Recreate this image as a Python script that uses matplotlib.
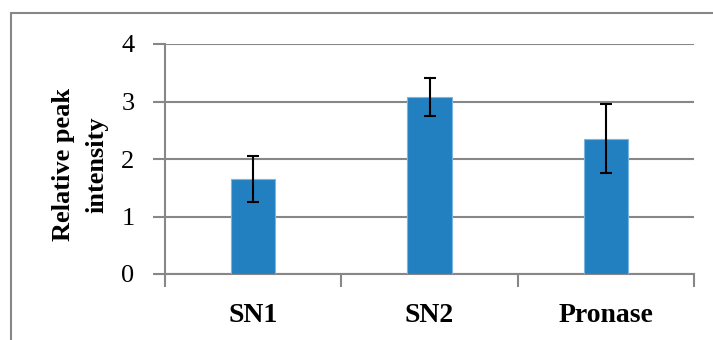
import matplotlib
matplotlib.use("Agg")
import matplotlib.pyplot as plt
from matplotlib.patches import Rectangle
import numpy as np

categories = ["SN1", "SN2", "Pronase"]
values = [1.65, 3.08, 2.35]
errors = [0.40, 0.33, 0.60]
y_ticks = [0, 1, 2, 3, 4]

plt.rcParams['font.family'] = ['Liberation Serif', 'DejaVu Serif']

grid_color = '#878787'
bar_color = '#2380c0'

fig = plt.figure(figsize=(7.13, 3.40), dpi=100)
ax = fig.add_axes([165 / 713, (340 - 274) / 340, (694 - 165) / 713, (274 - 44) / 340])

x = np.arange(len(categories))
ax.bar(x, values, width=0.25, color=bar_color, edgecolor='#7ab6e0', linewidth=0.8, zorder=3)
ax.errorbar(x, values, yerr=errors, fmt='none', ecolor='black', elinewidth=1.5,
            capsize=4, capthick=1.5, zorder=4)

ax.set_xlim(-0.5, len(categories) - 0.5)
ax.set_ylim(0, 4)
ax.set_yticks(y_ticks)
ax.yaxis.grid(True, color=grid_color, linewidth=1.5, zorder=0)
ax.set_axisbelow(True)

# boundaries get tick marks, category names sit in between
ax.set_xticks(np.arange(len(categories) + 1) - 0.5)
ax.set_xticklabels([])
ax.set_xticks(x, minor=True)
ax.set_xticklabels(categories, minor=True, fontsize=20, fontweight='bold')
ax.tick_params(axis='x', which='minor', length=0, pad=21)
ax.tick_params(axis='x', which='major', length=9, width=1.5, color=grid_color, direction='out')
ax.tick_params(axis='y', length=9, width=1.5, color=grid_color, labelsize=19, pad=13)

for side in ['top', 'right']:
    ax.spines[side].set_visible(False)
for side in ['left', 'bottom']:
    ax.spines[side].set_color(grid_color)
    ax.spines[side].set_linewidth(1.5)

ax.set_ylabel("Relative peak\nintensity", fontsize=19, fontweight='bold', linespacing=1.55)
ax.yaxis.set_label_coords((108 - 165) / 529, 0.475)

# outer chart frame, runs off the right and bottom of the picture
fig.patches.append(Rectangle((10.5 / 713, -0.1), 1.2, (340 - 13) / 340 + 0.1,
                             transform=fig.transFigure, fill=False,
                             edgecolor=grid_color, linewidth=1.5))

plt.savefig("out.png", dpi=100)
